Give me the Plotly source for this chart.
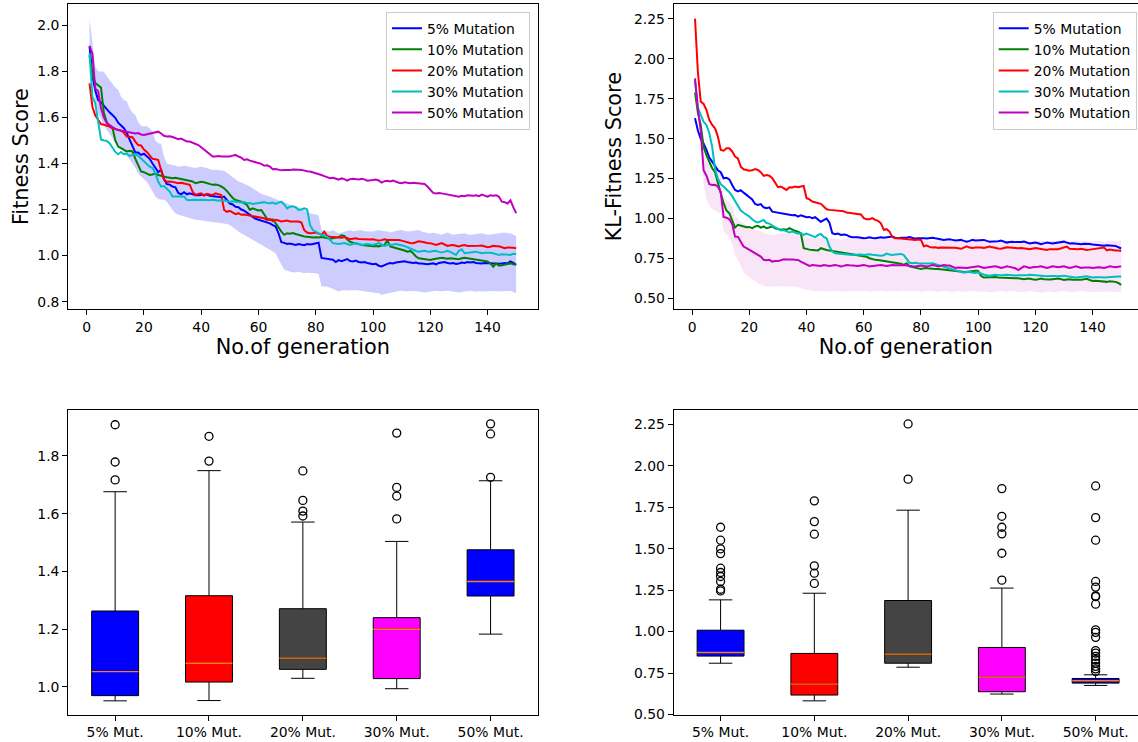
import plotly.graph_objects as go

# ---------------- data ----------------
generations = list(range(1, 151))
series_names = ["5% Mutation", "10% Mutation", "20% Mutation", "30% Mutation", "50% Mutation"]
series_colors = ["#0000ff", "#008000", "#ff0000", "#00bfbf", "#bf00bf"]

fit_5 = [1.908, 1.779, 1.717, 1.676, 1.665, 1.65, 1.632, 1.622, 1.61, 1.598,
         1.577, 1.567, 1.553, 1.532, 1.505, 1.478, 1.447, 1.447, 1.437, 1.442,
         1.43, 1.42, 1.40, 1.38, 1.363, 1.372, 1.332, 1.31, 1.308, 1.30,
         1.296, 1.272, 1.266, 1.275, 1.266, 1.27, 1.265, 1.262, 1.262, 1.263,
         1.262, 1.265, 1.26, 1.259, 1.258, 1.255, 1.253, 1.256, 1.24, 1.226,
         1.222, 1.212, 1.21, 1.2, 1.195, 1.185, 1.175, 1.168, 1.16, 1.156,
         1.152, 1.148, 1.142, 1.14, 1.132, 1.126, 1.097, 1.058, 1.055, 1.05,
         1.052, 1.048, 1.046, 1.05, 1.046, 1.045, 1.05, 1.048, 1.05, 1.054,
         1.056, 0.99, 0.988, 0.986, 0.986, 0.982, 0.972, 0.98, 0.976, 0.98,
         0.985, 0.976, 0.974, 0.978, 0.972, 0.97, 0.972, 0.968, 0.965, 0.962,
         0.964, 0.956, 0.953, 0.96, 0.964, 0.968, 0.966, 0.97, 0.972, 0.974,
         0.975, 0.972, 0.97, 0.968, 0.97, 0.966, 0.966, 0.964, 0.962, 0.964,
         0.966, 0.962, 0.968, 0.97, 0.972, 0.968, 0.966, 0.968, 0.964, 0.966,
         0.97, 0.968, 0.972, 0.97, 0.972, 0.968, 0.966, 0.966, 0.968, 0.967,
         0.966, 0.965, 0.966, 0.964, 0.966, 0.968, 0.966, 0.975, 0.968, 0.96]
fit_10 = [1.868, 1.782, 1.749, 1.74, 1.73, 1.62, 1.58, 1.562, 1.556, 1.50,
          1.473, 1.466, 1.46, 1.452, 1.455, 1.452, 1.42, 1.39, 1.365, 1.362,
          1.357, 1.35, 1.352, 1.357, 1.35, 1.348, 1.343, 1.34, 1.338, 1.336,
          1.338, 1.335, 1.332, 1.33, 1.328, 1.325, 1.322, 1.314, 1.318, 1.32,
          1.318, 1.314, 1.31, 1.307, 1.308, 1.306, 1.30, 1.292, 1.28, 1.263,
          1.25, 1.241, 1.238, 1.234, 1.228, 1.22, 1.198, 1.205, 1.20, 1.196,
          1.198, 1.18, 1.16, 1.155, 1.157, 1.14, 1.12, 1.104, 1.09, 1.097,
          1.095, 1.098, 1.094, 1.09, 1.088, 1.083, 1.082, 1.08, 1.078, 1.08,
          1.078, 1.08, 1.077, 1.075, 1.073, 1.075, 1.078, 1.08, 1.088, 1.085,
          1.07, 1.06, 1.056, 1.054, 1.05, 1.046, 1.044, 1.042, 1.04, 1.04,
          1.042, 1.04, 1.044, 1.046, 1.066, 1.04, 1.036, 1.033, 1.03, 1.028,
          1.022, 1.017, 1.02, 1.01, 0.996, 0.988, 0.986, 0.984, 0.982, 0.981,
          0.984, 0.986, 0.99, 0.99, 0.988, 0.986, 0.988, 0.986, 0.983, 0.984,
          0.988, 0.99, 0.988, 0.986, 0.984, 0.983, 0.982, 0.98, 0.978, 0.974,
          0.966, 0.952, 0.966, 0.956, 0.958, 0.96, 0.962, 0.966, 0.962, 0.96]
fit_20 = [1.748, 1.646, 1.609, 1.592, 1.571, 1.568, 1.565, 1.56, 1.553, 1.548,
          1.545, 1.543, 1.534, 1.517, 1.517, 1.514, 1.495, 1.48, 1.478, 1.46,
          1.45, 1.437, 1.42, 1.418, 1.415, 1.37, 1.33, 1.32, 1.322, 1.32,
          1.318, 1.314, 1.316, 1.314, 1.31, 1.307, 1.278, 1.263, 1.268, 1.27,
          1.26, 1.268, 1.265, 1.263, 1.27, 1.265, 1.263, 1.198, 1.19, 1.194,
          1.188, 1.18, 1.184, 1.177, 1.178, 1.176, 1.174, 1.172, 1.17, 1.169,
          1.166, 1.162, 1.155, 1.158, 1.15, 1.155, 1.152, 1.148, 1.15, 1.152,
          1.148, 1.148, 1.146, 1.148, 1.143, 1.11, 1.10, 1.097, 1.098, 1.10,
          1.096, 1.09, 1.104, 1.085, 1.082, 1.08, 1.078, 1.076, 1.077, 1.08,
          1.074, 1.071, 1.073, 1.075, 1.072, 1.071, 1.07, 1.068, 1.07, 1.071,
          1.068, 1.065, 1.067, 1.071, 1.068, 1.068, 1.07, 1.071, 1.068, 1.065,
          1.062, 1.056, 1.055, 1.054, 1.058, 1.062, 1.06, 1.056, 1.055, 1.054,
          1.05, 1.046, 1.05, 1.054, 1.048, 1.042, 1.045, 1.046, 1.043, 1.04,
          1.044, 1.046, 1.042, 1.042, 1.04, 1.04, 1.043, 1.044, 1.04, 1.036,
          1.038, 1.042, 1.04, 1.04, 1.036, 1.032, 1.035, 1.036, 1.034, 1.032]
fit_30 = [1.879, 1.691, 1.661, 1.582, 1.504, 1.50, 1.498, 1.488, 1.466, 1.45,
          1.44, 1.45, 1.44, 1.442, 1.433, 1.437, 1.44, 1.433, 1.422, 1.412,
          1.40, 1.386, 1.38, 1.357, 1.32, 1.30, 1.302, 1.292, 1.278, 1.256,
          1.256, 1.256, 1.253, 1.256, 1.242, 1.24, 1.242, 1.24, 1.241, 1.242,
          1.24, 1.241, 1.24, 1.242, 1.24, 1.238, 1.24, 1.24, 1.236, 1.234,
          1.236, 1.234, 1.232, 1.23, 1.232, 1.227, 1.228, 1.224, 1.226, 1.227,
          1.23, 1.232, 1.228, 1.227, 1.23, 1.224, 1.23, 1.234, 1.222, 1.205,
          1.212, 1.214, 1.21, 1.198, 1.20, 1.205, 1.20, 1.133, 1.111, 1.104,
          1.098, 1.09, 1.088, 1.08, 1.068, 1.054, 1.052, 1.05, 1.052, 1.054,
          1.05, 1.046, 1.05, 1.054, 1.05, 1.046, 1.048, 1.05, 1.048, 1.046,
          1.05, 1.054, 1.048, 1.042, 1.046, 1.046, 1.048, 1.05, 1.048, 1.046,
          1.042, 1.036, 1.03, 1.025, 1.02, 1.017, 1.02, 1.021, 1.018, 1.017,
          1.02, 1.021, 1.016, 1.013, 1.016, 1.021, 1.016, 1.01, 1.003, 1.021,
          1.027, 1.01, 1.012, 1.013, 1.015, 1.017, 1.013, 1.01, 1.012, 1.013,
          1.012, 1.01, 1.006, 1.003, 1.006, 1.005, 1.002, 1.003, 1.008, 1.007]
fit_50 = [1.911, 1.876, 1.726, 1.714, 1.64, 1.60, 1.575, 1.565, 1.558, 1.55,
          1.545, 1.542, 1.54, 1.538, 1.536, 1.533, 1.53, 1.532, 1.526, 1.524,
          1.527, 1.53, 1.532, 1.535, 1.538, 1.53, 1.52, 1.517, 1.518, 1.515,
          1.51, 1.505, 1.508, 1.50, 1.495, 1.495, 1.49, 1.487, 1.48, 1.47,
          1.46, 1.45, 1.44, 1.43, 1.43, 1.432, 1.43, 1.43, 1.428, 1.43,
          1.434, 1.437, 1.43, 1.425, 1.415, 1.418, 1.412, 1.408, 1.404, 1.40,
          1.398, 1.39, 1.392, 1.386, 1.375, 1.376, 1.372, 1.37, 1.372, 1.37,
          1.371, 1.374, 1.372, 1.373, 1.372, 1.368, 1.366, 1.365, 1.362, 1.357,
          1.355, 1.35, 1.345, 1.34, 1.336, 1.338, 1.333, 1.33, 1.335, 1.332,
          1.325, 1.332, 1.334, 1.332, 1.33, 1.333, 1.331, 1.325, 1.328, 1.328,
          1.33, 1.326, 1.317, 1.323, 1.325, 1.322, 1.326, 1.32, 1.316, 1.314,
          1.318, 1.316, 1.314, 1.316, 1.315, 1.312, 1.313, 1.311, 1.30, 1.285,
          1.272, 1.27, 1.272, 1.27, 1.268, 1.266, 1.262, 1.26, 1.258, 1.256,
          1.26, 1.258, 1.262, 1.26, 1.26, 1.262, 1.258, 1.265, 1.26, 1.256,
          1.262, 1.26, 1.262, 1.255, 1.234, 1.232, 1.226, 1.24, 1.21, 1.184]
fit_band_hi = [2.03, 1.936, 1.82, 1.80, 1.80, 1.798, 1.78, 1.763, 1.75, 1.73,
               1.72, 1.69, 1.676, 1.67, 1.64, 1.62, 1.61, 1.58, 1.563, 1.56,
               1.562, 1.553, 1.538, 1.50, 1.488, 1.486, 1.43, 1.40, 1.396, 1.394,
               1.39, 1.386, 1.388, 1.39, 1.388, 1.386, 1.382, 1.38, 1.384, 1.386,
               1.384, 1.38, 1.376, 1.372, 1.373, 1.372, 1.37, 1.368, 1.36, 1.35,
               1.338, 1.328, 1.322, 1.317, 1.312, 1.307, 1.30, 1.292, 1.283, 1.274,
               1.268, 1.263, 1.26, 1.256, 1.25, 1.245, 1.24, 1.234, 1.23, 1.224,
               1.22, 1.216, 1.213, 1.21, 1.204, 1.198, 1.19, 1.184, 1.18, 1.177,
               1.175, 1.111, 1.108, 1.104, 1.106, 1.111, 1.103, 1.097, 1.10, 1.104,
               1.108, 1.111, 1.106, 1.107, 1.109, 1.111, 1.106, 1.104, 1.106, 1.104,
               1.108, 1.111, 1.108, 1.107, 1.104, 1.10, 1.104, 1.108, 1.11, 1.111,
               1.106, 1.104, 1.106, 1.107, 1.109, 1.111, 1.104, 1.10, 1.098, 1.097,
               1.099, 1.097, 1.094, 1.09, 1.096, 1.10, 1.095, 1.09, 1.093, 1.094,
               1.096, 1.097, 1.093, 1.09, 1.092, 1.094, 1.096, 1.097, 1.094, 1.09,
               1.092, 1.094, 1.096, 1.097, 1.098, 1.10, 1.097, 1.097, 1.092, 1.085]
fit_band_lo = [1.87, 1.763, 1.676, 1.618, 1.59, 1.567, 1.546, 1.53, 1.51, 1.488,
               1.482, 1.466, 1.45, 1.437, 1.42, 1.40, 1.38, 1.357, 1.343, 1.33,
               1.32, 1.30, 1.278, 1.256, 1.245, 1.242, 1.242, 1.234, 1.214, 1.198,
               1.184, 1.177, 1.174, 1.17, 1.168, 1.163, 1.16, 1.155, 1.154, 1.152,
               1.15, 1.148, 1.146, 1.143, 1.144, 1.143, 1.142, 1.14, 1.137, 1.133,
               1.122, 1.111, 1.104, 1.097, 1.09, 1.083, 1.075, 1.068, 1.062, 1.056,
               1.048, 1.04, 1.034, 1.027, 1.018, 1.01, 0.981, 0.96, 0.938, 0.935,
               0.93, 0.926, 0.928, 0.93, 0.926, 0.923, 0.925, 0.926, 0.924, 0.923,
               0.92, 0.866, 0.865, 0.866, 0.86, 0.854, 0.85, 0.844, 0.848, 0.85,
               0.848, 0.847, 0.849, 0.85, 0.848, 0.847, 0.845, 0.844, 0.842, 0.84,
               0.838, 0.837, 0.829, 0.833, 0.836, 0.84, 0.842, 0.844, 0.846, 0.847,
               0.845, 0.844, 0.846, 0.847, 0.845, 0.844, 0.842, 0.84, 0.842, 0.844,
               0.846, 0.847, 0.845, 0.844, 0.846, 0.847, 0.845, 0.844, 0.842, 0.84,
               0.842, 0.844, 0.846, 0.847, 0.845, 0.843, 0.845, 0.844, 0.845, 0.844,
               0.846, 0.847, 0.845, 0.844, 0.845, 0.844, 0.845, 0.847, 0.842, 0.836]

kl_5 = [1.629, 1.551, 1.499, 1.47, 1.43, 1.382, 1.356, 1.332, 1.302, 1.29,
        1.252, 1.255, 1.245, 1.21, 1.179, 1.17, 1.178, 1.162, 1.148, 1.137,
        1.12, 1.091, 1.085, 1.09, 1.07, 1.065, 1.07, 1.043, 1.04, 1.038,
        1.036, 1.033, 1.03, 1.023, 1.02, 1.022, 1.012, 1.02, 1.015, 1.008,
        1.01, 1.002, 1.008, 0.995, 0.98, 0.99, 1.0, 0.974, 0.908, 0.901,
        0.906, 0.897, 0.90, 0.897, 0.887, 0.883, 0.885, 0.883, 0.88, 0.876,
        0.878, 0.883, 0.878, 0.876, 0.88, 0.883, 0.88, 0.882, 0.885, 0.887,
        0.88, 0.876, 0.88, 0.878, 0.88, 0.884, 0.878, 0.874, 0.876, 0.878,
        0.876, 0.874, 0.876, 0.88, 0.876, 0.872, 0.87, 0.866, 0.868, 0.87,
        0.866, 0.862, 0.864, 0.866, 0.86, 0.855, 0.86, 0.866, 0.862, 0.862,
        0.864, 0.866, 0.86, 0.855, 0.856, 0.855, 0.858, 0.862, 0.855, 0.849,
        0.853, 0.855, 0.852, 0.851, 0.853, 0.855, 0.849, 0.843, 0.847, 0.849,
        0.845, 0.839, 0.844, 0.849, 0.846, 0.843, 0.846, 0.849, 0.851, 0.855,
        0.849, 0.843, 0.845, 0.843, 0.842, 0.839, 0.842, 0.843, 0.84, 0.837,
        0.835, 0.833, 0.834, 0.83, 0.832, 0.833, 0.83, 0.828, 0.822, 0.812]
kl_10 = [1.788, 1.663, 1.587, 1.45, 1.396, 1.352, 1.315, 1.29, 1.231, 1.158,
         1.096, 1.05, 1.033, 0.991, 0.943, 0.96, 0.954, 0.95, 0.945, 0.947,
         0.939, 0.95, 0.954, 0.943, 0.95, 0.939, 0.945, 0.95, 0.939, 0.933,
         0.929, 0.933, 0.929, 0.939, 0.929, 0.923, 0.918, 0.908, 0.814, 0.807,
         0.805, 0.803, 0.80, 0.799, 0.814, 0.807, 0.803, 0.799, 0.796, 0.793,
         0.79, 0.787, 0.785, 0.782, 0.78, 0.778, 0.775, 0.772, 0.77, 0.766,
         0.76, 0.751, 0.745, 0.741, 0.74, 0.737, 0.733, 0.73, 0.728, 0.726,
         0.724, 0.72, 0.716, 0.709, 0.72, 0.70, 0.695, 0.69, 0.686, 0.684,
         0.688, 0.69, 0.686, 0.687, 0.684, 0.684, 0.682, 0.679, 0.678, 0.675,
         0.674, 0.672, 0.67, 0.668, 0.666, 0.664, 0.668, 0.671, 0.673, 0.672,
         0.64, 0.63, 0.632, 0.63, 0.632, 0.634, 0.631, 0.63, 0.628, 0.626,
         0.624, 0.622, 0.625, 0.626, 0.622, 0.62, 0.622, 0.624, 0.62, 0.617,
         0.62, 0.624, 0.62, 0.617, 0.618, 0.62, 0.622, 0.624, 0.62, 0.615,
         0.618, 0.62, 0.617, 0.615, 0.617, 0.617, 0.62, 0.622, 0.615, 0.609,
         0.61, 0.609, 0.607, 0.605, 0.603, 0.607, 0.605, 0.603, 0.596, 0.584]
kl_20 = [2.252, 1.919, 1.732, 1.718, 1.68, 1.617, 1.586, 1.565, 1.513, 1.43,
         1.425, 1.44, 1.44, 1.42, 1.388, 1.377, 1.325, 1.308, 1.304, 1.30,
         1.302, 1.31, 1.304, 1.29, 1.267, 1.273, 1.268, 1.252, 1.225, 1.196,
         1.20, 1.19, 1.179, 1.196, 1.194, 1.20, 1.196, 1.20, 1.204, 1.127,
         1.12, 1.106, 1.10, 1.096, 1.092, 1.075, 1.058, 1.054, 1.052, 1.054,
         1.05, 1.05, 1.045, 1.037, 1.035, 1.033, 1.031, 1.029, 1.025, 1.002,
         0.995, 0.995, 1.002, 0.991, 0.985, 0.97, 0.929, 0.933, 0.918, 0.883,
         0.876, 0.876, 0.874, 0.874, 0.87, 0.868, 0.866, 0.866, 0.868, 0.866,
         0.826, 0.83, 0.822, 0.818, 0.82, 0.815, 0.818, 0.818, 0.816, 0.815,
         0.818, 0.816, 0.813, 0.81, 0.818, 0.826, 0.818, 0.815, 0.818, 0.82,
         0.818, 0.815, 0.818, 0.824, 0.82, 0.815, 0.812, 0.811, 0.815, 0.82,
         0.818, 0.815, 0.812, 0.813, 0.815, 0.814, 0.81, 0.807, 0.812, 0.815,
         0.812, 0.81, 0.806, 0.803, 0.808, 0.81, 0.808, 0.807, 0.812, 0.818,
         0.824, 0.81, 0.808, 0.806, 0.808, 0.81, 0.806, 0.803, 0.805, 0.807,
         0.81, 0.81, 0.814, 0.818, 0.80, 0.806, 0.803, 0.799, 0.80, 0.797]
kl_30 = [1.862, 1.695, 1.65, 1.607, 1.586, 1.534, 1.45, 1.31, 1.25, 1.215,
         1.20, 1.185, 1.165, 1.14, 1.11, 1.075, 1.05, 1.036, 1.025, 1.012,
         0.995, 0.982, 0.975, 0.982, 0.991, 0.972, 0.968, 0.955, 0.945, 0.933,
         0.925, 0.928, 0.922, 0.912, 0.918, 0.91, 0.905, 0.908, 0.897, 0.905,
         0.898, 0.888, 0.883, 0.897, 0.903, 0.885, 0.876, 0.824, 0.793, 0.782,
         0.78, 0.778, 0.776, 0.778, 0.775, 0.772, 0.773, 0.776, 0.775, 0.772,
         0.774, 0.776, 0.773, 0.772, 0.768, 0.766, 0.77, 0.78, 0.775, 0.772,
         0.774, 0.776, 0.778, 0.771, 0.75, 0.723, 0.72, 0.723, 0.72, 0.719,
         0.716, 0.715, 0.718, 0.719, 0.714, 0.709, 0.704, 0.698, 0.694, 0.688,
         0.684, 0.677, 0.672, 0.667, 0.66, 0.667, 0.663, 0.663, 0.659, 0.663,
         0.654, 0.648, 0.645, 0.642, 0.645, 0.648, 0.645, 0.644, 0.646, 0.648,
         0.645, 0.642, 0.643, 0.644, 0.643, 0.642, 0.645, 0.648, 0.646, 0.644,
         0.643, 0.642, 0.64, 0.638, 0.64, 0.642, 0.64, 0.638, 0.64, 0.642,
         0.638, 0.634, 0.632, 0.63, 0.632, 0.634, 0.632, 0.638, 0.634, 0.63,
         0.632, 0.634, 0.632, 0.63, 0.632, 0.634, 0.636, 0.638, 0.636, 0.636]
kl_50 = [1.878, 1.687, 1.551, 1.302, 1.268, 1.215, 1.21, 1.212, 1.20, 1.165,
         1.01, 1.005, 0.995, 0.965, 0.887, 0.885, 0.855, 0.824, 0.814, 0.803,
         0.793, 0.785, 0.772, 0.761, 0.741, 0.738, 0.741, 0.73, 0.733, 0.733,
         0.738, 0.745, 0.743, 0.745, 0.743, 0.741, 0.74, 0.73, 0.72, 0.709,
         0.703, 0.709, 0.707, 0.705, 0.703, 0.709, 0.706, 0.703, 0.705, 0.709,
         0.705, 0.699, 0.703, 0.709, 0.707, 0.705, 0.703, 0.703, 0.706, 0.709,
         0.705, 0.699, 0.702, 0.705, 0.707, 0.709, 0.706, 0.703, 0.706, 0.709,
         0.707, 0.705, 0.707, 0.709, 0.705, 0.703, 0.701, 0.70, 0.703, 0.705,
         0.702, 0.70, 0.703, 0.709, 0.705, 0.70, 0.704, 0.709, 0.706, 0.705,
         0.698, 0.69, 0.693, 0.694, 0.692, 0.69, 0.692, 0.694, 0.697, 0.70,
         0.696, 0.69, 0.693, 0.694, 0.697, 0.70, 0.696, 0.69, 0.694, 0.70,
         0.697, 0.694, 0.688, 0.677, 0.69, 0.70, 0.696, 0.69, 0.694, 0.694,
         0.697, 0.70, 0.696, 0.69, 0.695, 0.70, 0.697, 0.694, 0.697, 0.70,
         0.695, 0.69, 0.694, 0.70, 0.696, 0.69, 0.693, 0.695, 0.693, 0.69,
         0.693, 0.695, 0.693, 0.69, 0.694, 0.70, 0.697, 0.695, 0.698, 0.70]
kl_band_hi = [1.92, 1.76, 1.53, 1.40, 1.367, 1.356, 1.346, 1.325, 1.315, 1.283,
              1.137, 1.116, 1.106, 1.075, 1.012, 1.002, 0.98, 0.97, 0.96, 0.95,
              0.94, 0.929, 0.925, 0.918, 0.908, 0.905, 0.90, 0.897, 0.90, 0.905,
              0.906, 0.91, 0.907, 0.905, 0.903, 0.90, 0.898, 0.897, 0.89, 0.883,
              0.88, 0.876, 0.88, 0.883, 0.88, 0.876, 0.873, 0.87, 0.873, 0.876,
              0.873, 0.866, 0.87, 0.876, 0.873, 0.87, 0.872, 0.876, 0.873, 0.87,
              0.868, 0.866, 0.87, 0.876, 0.873, 0.87, 0.872, 0.876, 0.873, 0.87,
              0.872, 0.876, 0.872, 0.866, 0.864, 0.862, 0.864, 0.866, 0.862, 0.86,
              0.862, 0.864, 0.86, 0.858, 0.862, 0.865, 0.862, 0.858, 0.86, 0.862,
              0.86, 0.857, 0.859, 0.862, 0.86, 0.856, 0.859, 0.862, 0.86, 0.857,
              0.858, 0.862, 0.86, 0.856, 0.858, 0.862, 0.86, 0.857, 0.859, 0.862,
              0.86, 0.856, 0.855, 0.85, 0.856, 0.862, 0.86, 0.856, 0.858, 0.86,
              0.862, 0.86, 0.857, 0.855, 0.858, 0.862, 0.86, 0.857, 0.859, 0.862,
              0.859, 0.855, 0.858, 0.862, 0.86, 0.856, 0.858, 0.86, 0.858, 0.855,
              0.858, 0.86, 0.858, 0.855, 0.857, 0.862, 0.86, 0.858, 0.86, 0.862]
kl_band_lo = [1.85, 1.72, 1.47, 1.22, 1.12, 1.08, 1.06, 1.05, 1.04, 1.03,
              0.92, 0.90, 0.88, 0.84, 0.77, 0.74, 0.70, 0.665, 0.645, 0.63,
              0.618, 0.605, 0.595, 0.584, 0.578, 0.574, 0.576, 0.575, 0.572, 0.575,
              0.577, 0.574, 0.576, 0.575, 0.573, 0.574, 0.57, 0.563, 0.558, 0.553,
              0.55, 0.548, 0.545, 0.542, 0.545, 0.546, 0.544, 0.542, 0.544, 0.547,
              0.545, 0.541, 0.543, 0.542, 0.545, 0.547, 0.544, 0.542, 0.544, 0.547,
              0.544, 0.541, 0.543, 0.542, 0.545, 0.547, 0.544, 0.542, 0.544, 0.546,
              0.544, 0.542, 0.545, 0.548, 0.545, 0.542, 0.544, 0.546, 0.543, 0.54,
              0.543, 0.546, 0.548, 0.545, 0.542, 0.54, 0.543, 0.546, 0.544, 0.541,
              0.54, 0.543, 0.545, 0.542, 0.54, 0.543, 0.546, 0.544, 0.541, 0.54,
              0.543, 0.545, 0.543, 0.54, 0.538, 0.541, 0.543, 0.545, 0.542, 0.54,
              0.543, 0.546, 0.544, 0.541, 0.538, 0.54, 0.543, 0.545, 0.542, 0.54,
              0.537, 0.535, 0.538, 0.541, 0.543, 0.54, 0.538, 0.541, 0.543, 0.545,
              0.542, 0.54, 0.538, 0.541, 0.543, 0.545, 0.542, 0.54, 0.538, 0.54,
              0.543, 0.541, 0.538, 0.54, 0.542, 0.54, 0.538, 0.54, 0.542, 0.538]

# box plot statistics
box_labels = ["5% Mut.", "10% Mut.", "20% Mut.", "30% Mut.", "50% Mut."]
box_positions = [1, 2, 3, 4, 5]
box_colors = ["#0000ff", "#ff0000", "#444444", "#ff00ff", "#0000ff"]

fit_q1 = [0.970, 1.017, 1.061, 1.029, 1.315]
fit_med = [1.053, 1.082, 1.100, 1.200, 1.365]
fit_q3 = [1.263, 1.316, 1.271, 1.240, 1.475]
fit_low = [0.952, 0.953, 1.030, 0.994, 1.183]
fit_high = [1.676, 1.749, 1.571, 1.504, 1.714]
fit_outliers = [[1.908, 1.779, 1.717],
                [1.868, 1.782],
                [1.748, 1.646, 1.609, 1.592],
                [1.879, 1.691, 1.661, 1.582],
                [1.911, 1.876, 1.726]]

kl_q1 = [0.852, 0.617, 0.809, 0.637, 0.689]
kl_med = [0.874, 0.683, 0.864, 0.725, 0.703]
kl_q3 = [1.008, 0.868, 1.187, 0.904, 0.717]
kl_low = [0.809, 0.582, 0.785, 0.623, 0.675]
kl_high = [1.191, 1.231, 1.732, 1.262, 0.739]
kl_outliers = [[1.629, 1.551, 1.499, 1.470, 1.382, 1.356, 1.332, 1.302, 1.255, 1.245],
               [1.788, 1.663, 1.587, 1.396, 1.352, 1.290],
               [2.252, 1.919],
               [1.862, 1.695, 1.629, 1.589, 1.472, 1.310],
               [1.878, 1.687, 1.551, 1.302, 1.268, 1.215, 1.210, 1.165, 1.010, 0.995,
                0.965, 0.885, 0.870, 0.850, 0.830, 0.810, 0.790, 0.775, 0.760]]

# ---------------- figure ----------------
FONT = "DejaVu Sans"
W, H = 1138, 742
fig = go.Figure()

fit_lines = [fit_5, fit_10, fit_20, fit_30, fit_50]
kl_lines = [kl_5, kl_10, kl_20, kl_30, kl_50]

# shaded bands
fig.add_trace(go.Scatter(x=generations, y=fit_band_lo, mode="lines", line=dict(width=0),
                         showlegend=False, hoverinfo="skip", xaxis="x", yaxis="y"))
fig.add_trace(go.Scatter(x=generations, y=fit_band_hi, mode="lines", line=dict(width=0),
                         fill="tonexty", fillcolor="rgba(0,0,255,0.2)",
                         showlegend=False, hoverinfo="skip", xaxis="x", yaxis="y"))
for name, col, ys in zip(series_names, series_colors, fit_lines):
    fig.add_trace(go.Scatter(x=generations, y=ys, mode="lines", name=name,
                             line=dict(color=col, width=2), xaxis="x", yaxis="y",
                             legend="legend"))

fig.add_trace(go.Scatter(x=generations, y=kl_band_lo, mode="lines", line=dict(width=0),
                         showlegend=False, hoverinfo="skip", xaxis="x2", yaxis="y2"))
fig.add_trace(go.Scatter(x=generations, y=kl_band_hi, mode="lines", line=dict(width=0),
                         fill="tonexty", fillcolor="rgba(191,0,191,0.1)",
                         showlegend=False, hoverinfo="skip", xaxis="x2", yaxis="y2"))
for name, col, ys in zip(series_names, series_colors, kl_lines):
    fig.add_trace(go.Scatter(x=generations, y=ys, mode="lines", name=name,
                             line=dict(color=col, width=2), xaxis="x2", yaxis="y2",
                             legend="legend2"))

# box plots
BOX_W = 0.5
def add_boxes(q1, med, q3, low, high, outl, xa, ya):
    for i, pos in enumerate(box_positions):
        fig.add_trace(go.Box(x=[pos], q1=[q1[i]], median=[med[i]], q3=[q3[i]],
                             lowerfence=[low[i]], upperfence=[high[i]],
                             fillcolor=box_colors[i], line=dict(color="black", width=1),
                             width=BOX_W, whiskerwidth=0.5, boxpoints=False,
                             showlegend=False, hoverinfo="skip", xaxis=xa, yaxis=ya))
        fig.add_trace(go.Scatter(x=[pos - BOX_W / 2, pos + BOX_W / 2], y=[med[i], med[i]],
                                 mode="lines", line=dict(color="#ff7f0e", width=1.4),
                                 showlegend=False, hoverinfo="skip", xaxis=xa, yaxis=ya))
    ox, oy = [], []
    for pos, vals in zip(box_positions, outl):
        ox += [pos] * len(vals)
        oy += vals
    fig.add_trace(go.Scatter(x=ox, y=oy, mode="markers",
                             marker=dict(symbol="circle-open", size=8, color="black",
                                         line=dict(width=1.3)),
                             showlegend=False, hoverinfo="skip", xaxis=xa, yaxis=ya))

add_boxes(fit_q1, fit_med, fit_q3, fit_low, fit_high, fit_outliers, "x3", "y3")
add_boxes(kl_q1, kl_med, kl_q3, kl_low, kl_high, kl_outliers, "x4", "y4")

# ---------------- layout ----------------
left_dom = [68.2 / W, 537.5 / W]
right_dom = [673.7 / W, 1.0]
top_dom = [1 - 309 / H, 1 - 4.3 / H]
bot_dom = [1 - 714.7 / H, 1 - 410 / H]

tickfont = dict(family=FONT, size=13.9, color="black")
titlefont = dict(family=FONT, size=20.8, color="black")

def ax(domain, rng, mirror=True, **kw):
    d = dict(domain=domain, range=rng, showline=True, linecolor="black", linewidth=1,
             mirror=mirror, ticks="outside", ticklen=5, tickwidth=1, tickcolor="black",
             showgrid=False, zeroline=False, tickfont=tickfont, automargin=False)
    d.update(kw)
    return d

legend_style = dict(bgcolor="rgba(255,255,255,0.8)", bordercolor="#cccccc", borderwidth=1,
                    font=dict(family=FONT, size=13.9, color="black"),
                    tracegroupgap=0, traceorder="normal",
                    xanchor="right", yanchor="top", y=1 - 11.7 / H)

fig.update_layout(
    width=W, height=H, autosize=False,
    margin=dict(l=0, r=0, t=0, b=0),
    paper_bgcolor="white", plot_bgcolor="white",
    font=dict(family=FONT, color="black"),
    showlegend=True,
    xaxis=ax(left_dom, [-6.45, 157.45], anchor="y", tick0=0, dtick=20,
             title=dict(text="No.of generation", font=titlefont, standoff=4)),
    yaxis=ax(top_dom, [0.768, 2.091], anchor="x", tick0=0.8, dtick=0.2, tickformat=".1f",
             title=dict(text="Fitness Score", font=titlefont, standoff=3)),
    xaxis2=ax(right_dom, [-6.45, 155.88], anchor="y2", tick0=0, dtick=20,
              title=dict(text="No.of generation", font=titlefont, standoff=4)),
    yaxis2=ax(top_dom, [0.433, 2.342], mirror=False, anchor="x2", tick0=0.5, dtick=0.25,
              tickformat=".2f",
              title=dict(text="KL-Fitness Score", font=titlefont, standoff=6)),
    xaxis3=ax(left_dom, [0.5, 5.5], anchor="y3", tickvals=box_positions, ticktext=box_labels),
    yaxis3=ax(bot_dom, [0.904, 1.959], anchor="x3", tick0=1.0, dtick=0.2, tickformat=".1f"),
    xaxis4=ax(right_dom, [0.5, 5.452], anchor="y4", tickvals=box_positions, ticktext=box_labels),
    yaxis4=ax(bot_dom, [0.4985, 2.336], mirror=False, anchor="x4", tick0=0.5, dtick=0.25,
              tickformat=".2f"),
    legend=dict(x=530 / W, **legend_style),
    legend2=dict(x=1136.7 / W, **legend_style),
)

fig.write_html("out.html", config={"displayModeBar": False},
               post_script="document.body.style.margin='0';document.body.style.overflow='hidden';")
